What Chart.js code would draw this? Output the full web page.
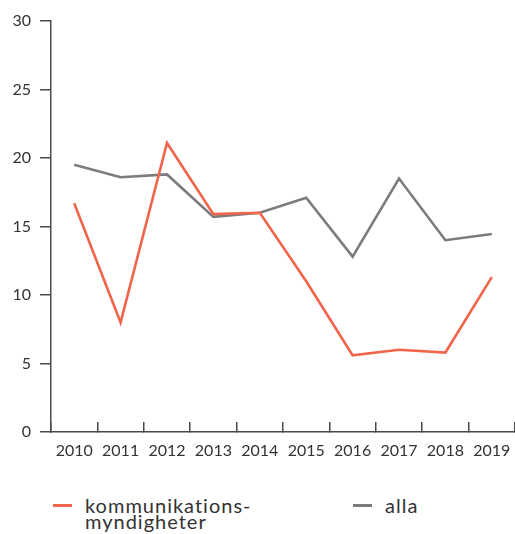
<!DOCTYPE html>
<html>
<head>
<meta charset="utf-8">
<script src="https://cdn.jsdelivr.net/npm/chart.js@4.4.0/dist/chart.umd.min.js"></script>
<style>
  body { margin: 0; background: #fff; font-family: Lato, "Open Sans", sans-serif; color: #333; }
  #wrap { position: relative; width: 515px; height: 534px; }
  #chartBox { position: absolute; left: 0; top: 0; width: 515px; height: 470px; }
  .legend { position: absolute; top: 497px; font-size: 20px; line-height: 16px; letter-spacing: 1px; color: #333; }
  .legend .swatch { position: absolute; left: 0; top: 7px; width: 19px; height: 3px; }
  .legend .label { position: absolute; left: 32px; top: 0; white-space: nowrap; }
</style>
</head>
<body>
<div id="wrap">
  <div id="chartBox"><canvas id="lineChart"></canvas></div>
  <div class="legend" style="left:53px"><span class="swatch" style="background:#f0654b"></span><span class="label">kommunikations-<br>myndigheter</span></div>
  <div class="legend" style="left:353px"><span class="swatch" style="background:#7b7b80"></span><span class="label">alla</span></div>
</div>
<script>
var years = ['2010','2011','2012','2013','2014','2015','2016','2017','2018','2019'];
var kommunikation = [16.7, 8.0, 21.1, 15.9, 16.0, 11.0, 5.6, 6.0, 5.8, 11.3];
var alla = [19.5, 18.6, 18.8, 15.7, 16.0, 17.1, 12.8, 18.5, 14.0, 14.45];
var yTicks = [0, 5, 10, 15, 20, 25, 30];

var axisColor = '#4a4a4a';
var tickFont = { family: 'Lato, "Open Sans", sans-serif', size: 16 };

new Chart(document.getElementById('lineChart'), {
    type: 'line',
    data: {
        labels: years,
        datasets: [{
            label: 'kommunikationsmyndigheter',
            data: kommunikation,
            borderColor: '#f0654b',
            borderWidth: 2.6,
            pointRadius: 0,
            tension: 0
        }, {
            label: 'alla',
            data: alla,
            borderColor: '#7b7b80',
            borderWidth: 2.6,
            pointRadius: 0,
            tension: 0
        }]
    },
    options: {
        responsive: true,
        maintainAspectRatio: false,
        animation: false,
        layout: { autoPadding: false, padding: { top: 21, right: 0, left: 0, bottom: 0 } },
        plugins: { legend: { display: false }, tooltip: { enabled: false } },
        scales: {
            x: {
                type: 'category',
                offset: true,
                grid: { offset: true, drawOnChartArea: false, color: axisColor, lineWidth: 1.5, tickLength: -10 },
                border: { color: axisColor, width: 1.5 },
                ticks: { color: '#333', font: tickFont, padding: 19, maxRotation: 0, autoSkip: false },
                afterFit: function(scale) {
                    // the axis runs to the right edge, labels may hang over
                    scale.height = 38;
                    scale.paddingLeft = 0;
                    scale.paddingRight = 0;
                }
            },
            y: {
                min: 0,
                max: 30,
                afterBuildTicks: function(scale) {
                    scale.ticks = yTicks.map(function(v) { return { value: v }; });
                },
                grid: { drawOnChartArea: false, color: axisColor, lineWidth: 1.5, tickLength: 11 },
                border: { color: axisColor, width: 1.5 },
                ticks: { color: '#333', font: tickFont, padding: 9 },
                afterFit: function(scale) { scale.width = 51; }
            }
        }
    }
});
</script>
</body>
</html>
